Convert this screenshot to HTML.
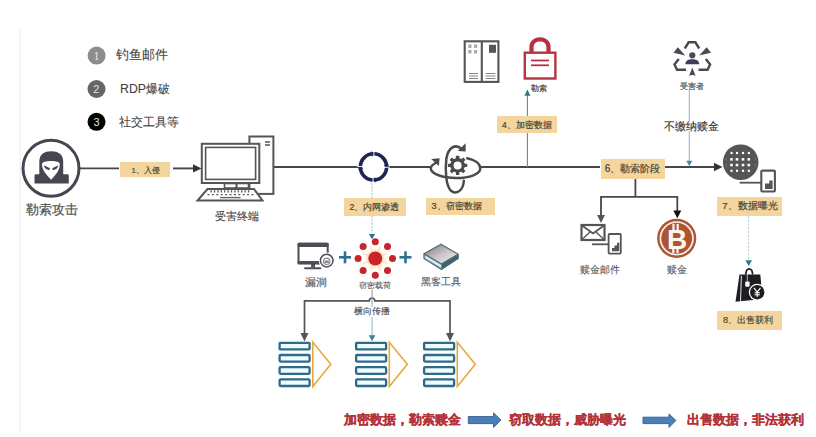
<!DOCTYPE html>
<html><head><meta charset="utf-8">
<style>
html,body{margin:0;padding:0;background:#fff;}
body{width:816px;height:437px;overflow:hidden;position:relative;font-family:"Liberation Sans",sans-serif;}
svg{position:absolute;left:0;top:0;}
.t{position:absolute;line-height:1;white-space:nowrap;color:#444;}
.box{position:absolute;background:#f3d59d;}
.bt{position:absolute;line-height:1;white-space:nowrap;color:#4a4638;-webkit-text-stroke:0.2px #4a4638;}
.cap{position:absolute;line-height:1;white-space:nowrap;color:#b3333a;font-weight:bold;font-size:13px;-webkit-text-stroke:0.25px #b3333a;}
</style></head><body>
<svg width="816" height="437" viewBox="0 0 816 437">
  <!-- faint left rule -->
  <rect x="19" y="28.5" width="1.8" height="403" fill="#f2f3f4"/>

  <!-- legend circles -->
  <circle cx="96.6" cy="55.6" r="9" fill="#8c8c8c"/>
  <circle cx="96.5" cy="89" r="9" fill="#666"/>
  <circle cx="96.5" cy="121.8" r="9" fill="#000"/>
  <text x="96.6" y="59.9" font-family="Liberation Serif" font-size="12" fill="#e8e8e8" text-anchor="middle">1</text>
  <text x="96.4" y="92.9" font-family="Liberation Sans" font-size="11" fill="#e0e0e0" text-anchor="middle">2</text>
  <text x="96.5" y="125.8" font-family="Liberation Sans" font-size="11" fill="#e0e0e0" text-anchor="middle">3</text>

  <!-- main line -->
  <g stroke="#474747" stroke-width="1.9" fill="none">
    <line x1="80" y1="168.4" x2="119" y2="168.4"/>
    <line x1="173" y1="168.4" x2="194" y2="168.4"/>
    <line x1="274" y1="167" x2="359" y2="167"/>
    <line x1="388" y1="167" x2="431" y2="167"/>
    <line x1="481" y1="167" x2="600" y2="167"/>
    <line x1="665" y1="167" x2="716" y2="167"/>
  </g>
  <polygon points="193,164.3 201.5,168.4 193,172.5" fill="#333"/>
  <polygon points="714,162.8 722.5,167 714,171.2" fill="#333"/>

  <!-- hacker -->
  <circle cx="51" cy="168.3" r="28" fill="none" stroke="#464650" stroke-width="3"/>
  <path d="M39.3,175 L39.3,162 C39.3,154.5 44,151.3 51.2,151.3 C58.5,151.3 63.2,154.5 63.2,162 L63.2,175 Z" fill="#464650"/>
  <path d="M34.5,175.7 C34.5,174.5 35.3,174.2 36.5,174.2 L66.8,174.2 C68,174.2 68.8,174.5 68.8,175.7 L68.8,183.4 L34.5,183.4 Z" fill="#464650"/>
  <path d="M42,164.5 C42,161.8 46,161 51.1,161 C56.2,161 59.8,161.8 59.8,164.5 C59.8,170 56,174.5 51.1,179.7 C46.2,174.5 42,170 42,164.5 Z" fill="#fff"/>
  <path d="M43.8,165.3 L50,168.2 L49,170.2 Q45,169.6 43.8,165.3 Z" fill="#464650"/>
  <path d="M58.4,165.3 L52.2,168.2 L53.2,170.2 Q57.2,169.6 58.4,165.3 Z" fill="#464650"/>

  <!-- computer -->
  <g fill="none" stroke="#555" stroke-width="2">
    <rect x="249.4" y="136.5" width="24" height="57.4" fill="#fff"/>
    <line x1="265" y1="142" x2="270" y2="142" stroke-width="1.5"/>
    <line x1="265" y1="145" x2="270" y2="145" stroke-width="1.5"/>
    <rect x="201.8" y="143.8" width="57.5" height="39.2" fill="#fff"/>
    <rect x="205.6" y="147.4" width="50" height="32" stroke-width="1.6"/>
    <rect x="224.5" y="183.5" width="12" height="4.5" stroke-width="1.6"/>
    <rect x="236.5" y="183.5" width="12" height="4.5" stroke-width="1.6"/>
    <path d="M207.5,189 L254,189 L262.5,200.5 L197.5,200.5 Z" fill="#fff"/>
  </g>
  <g stroke="#555" stroke-width="1.6">
    <line x1="210.5" y1="191.4" x2="250.5" y2="191.4" stroke-width="2.3" stroke-dasharray="1.3 2.1"/>
    <line x1="207.5" y1="194.7" x2="253.5" y2="194.7" stroke-width="1.3" stroke-dasharray="2 2.4"/>
  </g>
  <line x1="220" y1="197.6" x2="240.5" y2="197.6" stroke="#666" stroke-width="1.4"/>

  <!-- network node ring -->
  <circle cx="373.5" cy="166.9" r="13.1" fill="none" stroke="#1f2452" stroke-width="3.6"/>
  <polygon points="371.90,156.83 371.00,151.10 373.73,153.80" fill="#1f2452"/><line x1="374.05" y1="156.41" x2="373.78" y2="150.60" stroke="#fff" stroke-width="0.9"/><polygon points="383.57,165.30 389.30,164.40 386.60,167.13" fill="#1f2452"/><line x1="383.99" y1="167.45" x2="389.80" y2="167.18" stroke="#fff" stroke-width="0.9"/><polygon points="375.10,176.97 376.00,182.70 373.27,180.00" fill="#1f2452"/><line x1="372.95" y1="177.39" x2="373.22" y2="183.20" stroke="#fff" stroke-width="0.9"/><polygon points="363.43,168.50 357.70,169.40 360.40,166.67" fill="#1f2452"/><line x1="363.01" y1="166.35" x2="357.20" y2="166.62" stroke="#fff" stroke-width="0.9"/>

  <!-- dashed down from node -->
  <line x1="372" y1="183" x2="372" y2="236" stroke="#adbfca" stroke-width="1" stroke-dasharray="2.2 1.1"/>
  <polygon points="368.8,234 375.2,234 372,239.3" fill="#35729a"/>

  <!-- gear orbit icon -->
  <g fill="none" stroke="#4a4a4a" stroke-width="2.5" stroke-linecap="round">
    <path d="M461.5,149 C456,143.5 448,147 446.3,159 C445,171 446,186 451,190.8 C455,194.3 461,192 463,185.5 C463.6,183.5 463.8,182 463.8,180.8"/>
    <path d="M436.5,162.5 C432.5,164.5 430.8,166.3 430.8,168.3 C430.8,174 443,178 456,178 C470,178 480.3,174 480.3,168.3 C480.3,163.5 474.5,159.8 467.2,158.2"/>
  </g>
  <polygon points="457.8,151 465.6,143.3 465.6,151.5" fill="#4a4a4a"/>
  <polygon points="431.2,159 439.6,158.2 438.8,166" fill="#4a4a4a"/>
  <g transform="translate(457.6,165.4)" fill="#4a4a4a">
    <circle r="7.3"/>
    <rect x="-1.7" y="-9.6" width="3.4" height="4" rx="0.5" transform="rotate(0)"/><rect x="-1.7" y="-9.6" width="3.4" height="4" rx="0.5" transform="rotate(45)"/><rect x="-1.7" y="-9.6" width="3.4" height="4" rx="0.5" transform="rotate(90)"/><rect x="-1.7" y="-9.6" width="3.4" height="4" rx="0.5" transform="rotate(135)"/><rect x="-1.7" y="-9.6" width="3.4" height="4" rx="0.5" transform="rotate(180)"/><rect x="-1.7" y="-9.6" width="3.4" height="4" rx="0.5" transform="rotate(225)"/><rect x="-1.7" y="-9.6" width="3.4" height="4" rx="0.5" transform="rotate(270)"/><rect x="-1.7" y="-9.6" width="3.4" height="4" rx="0.5" transform="rotate(315)"/>
    <circle r="4" fill="#fff"/>
  </g>

  <!-- label 4 vertical teal -->
  <line x1="527.4" y1="95" x2="527.4" y2="167" stroke="#6d8890" stroke-width="1.1"/>
  <polygon points="524.3,95.8 530.5,95.8 527.4,89.6" fill="#327689"/>

  <!-- server cabinet -->
  <g fill="none" stroke="#555" stroke-width="2.1">
    <rect x="464.7" y="41.3" width="33.7" height="40.6" fill="#fff"/>
    <line x1="481.8" y1="41" x2="481.8" y2="82"/>
  </g>
  <g fill="#a8a8a8">
    <rect x="468.3" y="44.5" width="3.2" height="3.4"/><rect x="474" y="44.5" width="3.2" height="3.4"/>
    <rect x="468.3" y="50" width="3.2" height="3.4"/><rect x="474" y="50" width="3.2" height="3.4"/>
  </g>
  <rect x="489" y="44.8" width="7" height="8" fill="#555"/>
  <g stroke="#777" stroke-width="0.9">
    <line x1="469" y1="73.5" x2="478" y2="73.5"/><line x1="469" y1="76" x2="478" y2="76"/><line x1="469" y1="78.5" x2="478" y2="78.5"/>
    <line x1="485.5" y1="73.5" x2="495.5" y2="73.5"/><line x1="485.5" y1="76" x2="495.5" y2="76"/><line x1="485.5" y1="78.5" x2="495.5" y2="78.5"/>
  </g>

  <!-- lock -->
  <path d="M531.5,52 L531.5,47 C531.5,42 535.5,39.3 540,39.3 C544.5,39.3 548.5,42 548.5,47 L548.5,52" fill="none" stroke="#b7323e" stroke-width="4.2"/>
  <rect x="524.8" y="52.7" width="30.6" height="25.8" fill="#fff" stroke="#b5343f" stroke-width="2.4"/>
  <line x1="531" y1="60.5" x2="549" y2="60.5" stroke="#b7323e" stroke-width="1.8"/>
  <line x1="531" y1="65.3" x2="549" y2="65.3" stroke="#b7323e" stroke-width="1.8"/>

  <!-- recycle person icon -->
  <g fill="none" stroke="#4a4a55" stroke-width="2.4" stroke-linejoin="miter">
    <polyline points="684.8,48.5 688.6,42.3 695.4,42.3 699.2,48.5"/>
    <polyline points="678.8,59 674.5,64.5 677,69.8 686,69.8"/>
    <polyline points="705.8,59 710.1,64.5 707.6,69.8 698.6,69.8"/>
  </g>
  <g fill="#4a4a55">
    <polygon points="673.5,52.8 677.8,47.3 685.3,55.5"/>
    <polygon points="711,52.8 706.7,47.3 699.2,55.5"/>
    <path d="M692.3,67.5 L695.5,75.8 Q692.3,74 689.1,75.8 Z"/>
    <circle cx="692.3" cy="55.3" r="3.1"/>
  </g>
  <path d="M685.3,64.3 C685.5,60.5 688.5,59.3 692.3,59.3 C696.1,59.3 699.1,60.5 699.3,64.3 Z" fill="#3f3e5c"/>
  <!-- vertical teal from victim -->
  <line x1="689.3" y1="89" x2="689.3" y2="162" stroke="#9db8c2" stroke-width="1.1"/>
  <polygon points="686.3,160.8 692.3,160.8 689.3,166.3" fill="#3d8ca3"/>

  <!-- globe -->
  <circle cx="740.7" cy="162.2" r="17.8" fill="#555"/>
  <g fill="#fff">
    <rect x="730.5" y="151.9" width="2.1" height="2.2"/><rect x="736.0" y="151.9" width="2.1" height="2.2"/><rect x="742.0" y="151.9" width="2.1" height="2.2"/><rect x="747.8" y="151.9" width="2.1" height="2.2"/><rect x="730.2" y="158.1" width="2.6" height="2.5"/><rect x="735.7" y="158.1" width="2.6" height="2.5"/><rect x="741.7" y="158.1" width="2.6" height="2.5"/><rect x="747.5" y="158.1" width="2.6" height="2.5"/><rect x="730.2" y="163.8" width="2.6" height="2.5"/><rect x="735.7" y="163.8" width="2.6" height="2.5"/><rect x="741.7" y="163.8" width="2.6" height="2.5"/><rect x="747.5" y="163.8" width="2.6" height="2.5"/><rect x="730.5" y="169.7" width="2.1" height="2.2"/><rect x="736.0" y="169.7" width="2.1" height="2.2"/><rect x="742.0" y="169.7" width="2.1" height="2.2"/><rect x="747.8" y="169.7" width="2.1" height="2.2"/>
  </g>
  <g fill="#777">
    <rect x="725.5" y="158.3" width="1.2" height="2"/><rect x="725.5" y="164.2" width="1.2" height="2"/>
    <rect x="754.7" y="158.3" width="1.2" height="2"/><rect x="754.7" y="164.2" width="1.2" height="2"/>
  </g>
  <!-- phone near globe -->
  <line x1="739.7" y1="182.7" x2="761" y2="182.7" stroke="#555" stroke-width="1.8"/>
  <rect x="761.3" y="170.6" width="13.6" height="20.9" fill="#fff" stroke="#555" stroke-width="2.1" rx="1"/>
  <path d="M765,189 L765,183.4 L769.3,183.4 L769.3,180.6 L772.6,180.6 L772.6,189 Z" fill="#555"/>

  <!-- dotted from 7 to bag -->
  <line x1="748.7" y1="216" x2="748.7" y2="261" stroke="#c0ced4" stroke-width="1" stroke-dasharray="2.5 1.2"/>
  <polygon points="745.3,260.3 752.1,260.3 748.7,265.9" fill="#2e7a98"/>

  <!-- bag -->
  <path d="M745.6,274.5 L746.6,270.3 Q749.2,267.6 751.8,270.3 L752.8,274.5" fill="none" stroke="#1e1e22" stroke-width="1.7"/>
  <path d="M739.5,274.6 L760.3,274.6 L762.5,299 L735.5,301.8 Z" fill="#1e1e22"/>
  <line x1="741.4" y1="275.8" x2="740.5" y2="301.8" stroke="#fff" stroke-width="0.9"/>
  <rect x="745.2" y="281.4" width="4.4" height="5.3" rx="1.2" fill="#fff"/>
  <line x1="747.3" y1="274.8" x2="747.3" y2="281.5" stroke="#ddd" stroke-width="0.8"/>
  <circle cx="757.2" cy="292.2" r="8.4" fill="#fff"/>
  <circle cx="757.2" cy="292.2" r="7.2" fill="#1e1e22"/>
  <g stroke="#fff" stroke-width="1.1" fill="none">
    <polyline points="753.9,287.8 757.2,292 760.5,287.8"/>
    <line x1="757.2" y1="292" x2="757.2" y2="297"/>
    <line x1="754.6" y1="292.8" x2="759.8" y2="292.8"/>
    <line x1="754.6" y1="294.8" x2="759.8" y2="294.8"/>
  </g>

  <!-- branch from box 6 -->
  <g stroke="#484848" stroke-width="1.8" fill="none">
    <line x1="635.4" y1="178.7" x2="635.4" y2="196.8"/>
    <polyline points="601,216 601,196.8 677.3,196.8 677.3,212"/>
  </g>
  <polygon points="597,215 605,215 601,223" fill="#555"/>
  <polygon points="673.3,210.5 681.3,210.5 677.3,218.3" fill="#111"/>

  <!-- envelope + phone -->
  <rect x="581.5" y="225" width="23" height="15" fill="#fff" stroke="#555" stroke-width="2.2"/>
  <path d="M582,225.5 L593,233.5 L604,225.5" fill="none" stroke="#555" stroke-width="1.8"/>
  <path d="M582,239.5 L590,232" fill="none" stroke="#555" stroke-width="1.3"/>
  <path d="M604,239.5 L596,232" fill="none" stroke="#555" stroke-width="1.3"/>
  <line x1="592" y1="244.3" x2="608" y2="244.3" stroke="#555" stroke-width="1.8"/>
  <rect x="608.6" y="234" width="12.2" height="19.6" rx="1" fill="#fff" stroke="#555" stroke-width="1.8"/>
  <path d="M612,251.3 L612,248 L614.5,248 L614.5,245.5 L617,245.5 L617,242.8 L619.3,242.8 L619.3,251.3 Z" fill="#555"/>

  <!-- bitcoin -->
  <circle cx="676.7" cy="238.3" r="19.6" fill="#ac5530"/>
  <circle cx="676.7" cy="238.3" r="16.3" fill="none" stroke="#fbeee8" stroke-width="1.7"/>
  <g fill="#fdf5f0">
    <rect x="672.4" y="223.8" width="2.2" height="7"/><rect x="676.6" y="223.8" width="2.2" height="7"/>
    <rect x="672.2" y="248" width="2.2" height="5"/><rect x="676.4" y="248" width="2.2" height="5"/>
  </g>
  <text x="677.2" y="248.6" font-family="Liberation Sans" font-weight="bold" font-size="28" fill="#fdf5f0" text-anchor="middle">B</text>

  <!-- vuln monitor -->
  <rect x="298.5" y="243.7" width="29.2" height="19.5" rx="1" fill="#fff" stroke="#4d4d55" stroke-width="2"/>
  <rect x="297.6" y="242.7" width="31" height="4.4" rx="1" fill="#4d4d55"/>
  <rect x="297.6" y="261" width="31" height="3.4" fill="#4d4d55"/>
  <rect x="311.1" y="264" width="3.9" height="3.4" fill="#4d4d55"/>
  <rect x="304.1" y="267.2" width="17.1" height="2" rx="0.8" fill="#4d4d55"/>
  <circle cx="326.7" cy="260.6" r="8" fill="#fff"/>
  <circle cx="326.7" cy="260.6" r="6.3" fill="#fff" stroke="#4d4d55" stroke-width="1.5"/>
  <circle cx="326.7" cy="261.3" r="3.2" fill="none" stroke="#85858c" stroke-width="1.1"/>
  <rect x="324.6" y="260.5" width="4.2" height="2.6" fill="#85858c"/>

  <!-- plus signs -->
  <g stroke="#2f6f90" stroke-width="2.6">
    <line x1="339" y1="257.3" x2="351" y2="257.3"/><line x1="345" y1="251.3" x2="345" y2="263.3"/>
    <line x1="399.5" y1="257.3" x2="411.5" y2="257.3"/><line x1="405.5" y1="251.3" x2="405.5" y2="263.3"/>
  </g>

  <!-- virus payload -->
  <defs>
    <radialGradient id="glow" cx="0.5" cy="0.5" r="0.5">
      <stop offset="0" stop-color="#ffd9a0"/>
      <stop offset="0.6" stop-color="#ffe9c8"/>
      <stop offset="1" stop-color="#fff" stop-opacity="0"/>
    </radialGradient>
    <linearGradient id="tool" x1="0" y1="0" x2="1" y2="1">
      <stop offset="0" stop-color="#707074"/>
      <stop offset="0.5" stop-color="#c9c2c4"/>
      <stop offset="1" stop-color="#f4f4f6"/>
    </linearGradient>
  </defs>
  <circle cx="375.3" cy="258.5" r="13" fill="url(#glow)"/>
  <g stroke="#ffd58a" stroke-width="1.6" opacity="0.55"><line x1="375.3" y1="258.5" x2="387.3" y2="263.5"/><line x1="375.3" y1="258.5" x2="380.3" y2="270.5"/><line x1="375.3" y1="258.5" x2="370.3" y2="270.5"/><line x1="375.3" y1="258.5" x2="363.3" y2="263.5"/><line x1="375.3" y1="258.5" x2="363.3" y2="253.5"/><line x1="375.3" y1="258.5" x2="370.3" y2="246.5"/><line x1="375.3" y1="258.5" x2="380.3" y2="246.5"/><line x1="375.3" y1="258.5" x2="387.3" y2="253.5"/></g>
  <circle cx="375.3" cy="258.5" r="7" fill="#c8242c"/>
  <g fill="#c8242c">
    <circle cx="392.5" cy="258.5" r="3.5"/><circle cx="387.5" cy="270.4" r="3.5"/><circle cx="375.3" cy="275.3" r="3.5"/><circle cx="363.1" cy="270.4" r="3.5"/><circle cx="358.1" cy="258.5" r="3.5"/><circle cx="363.1" cy="246.6" r="3.5"/><circle cx="375.3" cy="241.7" r="3.5"/><circle cx="387.5" cy="246.6" r="3.5"/>
  </g>

  <!-- hacker tool box -->
  <path d="M424,253.8 L441.4,264 L441.4,269.4 L424,258.6 Z" fill="#9fb4bb"/>
  <path d="M425.3,255.8 L441,265 L441,267.3 L425.3,258 Z" fill="#e6f0f2"/>
  <path d="M441.4,264 L458.2,254.2 L458.2,258.6 L441.4,269.4 Z" fill="#3f626f"/>
  <path d="M441,244.2 L458.2,254.2 L441.4,264 L424,253.8 Z" fill="url(#tool)" stroke="#4b6c77" stroke-width="1.3" stroke-linejoin="round"/>
  <path d="M424,253.8 L424,258.6 L441.4,269.4 L458.2,258.6 L458.2,254.2" fill="none" stroke="#4b6c77" stroke-width="1.2" stroke-linejoin="round"/>

  <!-- lateral spread branch -->
  <g stroke="#555" stroke-width="1.7" fill="none">
    <path d="M304.5,334 L304.5,300.8 L369.3,300.8 A2.8,2.8 0 0 1 374.9,300.8 L450,300.8 L450,334"/>
  </g>
  <line x1="372.1" y1="289.5" x2="372.1" y2="304" stroke="#8aa3ad" stroke-width="1.1"/>
  <line x1="372.1" y1="304" x2="372.1" y2="336" stroke="#8fb2c0" stroke-width="1"/>
  <polygon points="300.5,333 308.5,333 304.5,341.5" fill="#555"/>
  <polygon points="446,333 454,333 450,341.5" fill="#555"/>
  <polygon points="368.8,335.3 375.4,335.3 372.1,341.3" fill="#3d809a"/>

  <!-- stacks -->
  <g id="stk">
  <g fill="#eefbff" stroke="#2f6a89" stroke-width="2.3">
    <rect x="279.6" y="342.8" width="30" height="6.6" rx="0.6"/>
    <rect x="279.6" y="355" width="30" height="6.6" rx="1"/>
    <rect x="279.6" y="367.2" width="30" height="6.6" rx="1"/>
    <rect x="279.6" y="379.4" width="30" height="6.6" rx="1"/>
  </g>
  <polygon points="312.8,342.3 330.8,364.2 312.8,386.6" fill="none" stroke="#e8a83e" stroke-width="1.6"/>
  </g>
  <use href="#stk" x="76.5" y="0"/>
  <use href="#stk" x="144.5" y="0"/>

  <!-- bottom arrows -->
  <polygon points="468.3,416.6 493.6,416.6 493.6,412.9 500.9,420.1 493.6,427.4 493.6,423.6 468.3,423.6" fill="#4c7fb9" stroke="#3b6596" stroke-width="1"/>
  <polygon points="643,417.2 669,417.2 669,413.9 675.9,420.5 669,427.4 669,423.6 643,423.6" fill="#4c7fb9" stroke="#3b6596" stroke-width="1"/>
</svg>

<!-- legend text -->
<div class="t" style="left:115.9px;top:48.6px;font-size:12.6px;-webkit-text-stroke:0.1px #444;">钓鱼邮件</div>
<div class="t" style="left:120px;top:82.5px;font-size:12.3px;-webkit-text-stroke:0.1px #444;">RDP爆破</div>
<div class="t" style="left:118.8px;top:115.6px;font-size:12.25px;-webkit-text-stroke:0.1px #444;">社交工具等</div>

<div class="t" style="left:26px;top:203.5px;font-size:12.8px;color:#555;-webkit-text-stroke:0.25px #555;">勒索攻击</div>
<div class="t" style="left:215px;top:211px;font-size:10.6px;color:#444;-webkit-text-stroke:0.12px #444;">受害终端</div>

<!-- boxes -->
<div class="box" style="left:120px;top:162px;width:50px;height:14.5px;"></div>
<div class="bt" style="left:131.5px;top:166.5px;font-size:7.8px;color:#5f583f;">1、入侵</div>

<div class="box" style="left:344px;top:197.5px;width:61.5px;height:18.5px;"></div>
<div class="bt" style="left:349.5px;top:202.5px;font-size:8.9px;">2、内网渗透</div>

<div class="box" style="left:426px;top:197.5px;width:69px;height:17.5px;"></div>
<div class="bt" style="left:431.5px;top:202px;font-size:9.2px;">3、窃密数据</div>

<div class="box" style="left:496.5px;top:116px;width:60px;height:17px;"></div>
<div class="bt" style="left:502px;top:120.5px;font-size:8.5px;">4、加密数据</div>

<div class="box" style="left:600.5px;top:158.8px;width:64.5px;height:19.9px;"></div>
<div class="bt" style="left:604.8px;top:164px;font-size:10px;">6、勒索阶段</div>

<div class="box" style="left:716.5px;top:196.8px;width:65px;height:19.3px;"></div>
<div class="bt" style="left:722.2px;top:201.3px;font-size:9.6px;">7、数据曝光</div>

<div class="box" style="left:717px;top:310.8px;width:65px;height:19px;"></div>
<div class="bt" style="left:723px;top:315.8px;font-size:9.3px;color:#55503f;">8、出售获利</div>

<div class="t" style="left:531.3px;top:84.5px;font-size:8px;color:#444;-webkit-text-stroke:0.2px #444;">勒索</div>
<div class="t" style="left:679.8px;top:81.5px;font-size:8.3px;color:#4d5759;-webkit-text-stroke:0.2px #4d5759;">受害者</div>
<div class="t" style="left:663.6px;top:120.6px;font-size:10.5px;color:#333;background:#fff;-webkit-text-stroke:0.15px #333;">不缴纳赎金</div>

<div class="t" style="left:580.4px;top:265px;font-size:10.3px;color:#555;-webkit-text-stroke:0.12px #555;">赎金邮件</div>
<div class="t" style="left:667px;top:265px;font-size:9.5px;color:#555;-webkit-text-stroke:0.12px #555;">赎金</div>

<div class="t" style="left:304.5px;top:277px;font-size:10.8px;color:#555;-webkit-text-stroke:0.12px #555;">漏洞</div>
<div class="t" style="left:358.7px;top:281px;font-size:8.3px;color:#555;-webkit-text-stroke:0.1px #555;">窃密载荷</div>
<div class="t" style="left:420.5px;top:277px;font-size:10.3px;color:#555;-webkit-text-stroke:0.12px #555;">黑客工具</div>
<div class="t" style="left:353.5px;top:306.8px;font-size:9.3px;color:#444;background:#fff;padding:0.5px 0;-webkit-text-stroke:0.12px #444;">横向传播</div>

<div class="cap" style="left:344.3px;top:414.3px;font-size:12.8px;">加密数据，勒索赎金</div>
<div class="cap" style="left:508.5px;top:414.3px;font-size:12.8px;">窃取数据，威胁曝光</div>
<div class="cap" style="left:687px;top:414.3px;font-size:12.8px;">出售数据，非法获利</div>
</body></html>
